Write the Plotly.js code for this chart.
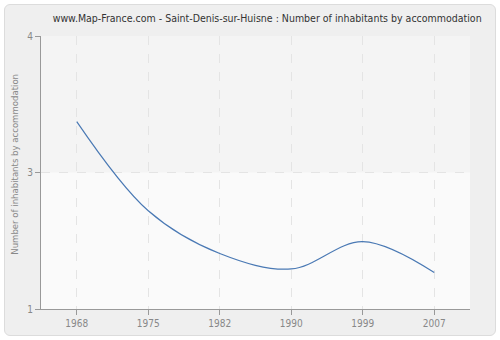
<!DOCTYPE html>
<html><head><meta charset="utf-8">
<script src="https://cdn.plot.ly/plotly-3.0.1.min.js"></script>
<style>
html,body{margin:0;padding:0;background:#ffffff;}
#wrap{position:absolute;left:4px;top:4px;width:490px;height:330px;border:1px solid #dcdcdc;border-radius:6px;background:#efefef;overflow:hidden;}
#chart{width:490px;height:330px;}
</style></head>
<body><div id="wrap"><div id="chart"></div></div>
<script>
var years = ["1968","1975","1982","1990","1999","2007"];
var inhabitants = [3.06, 2.08, 1.61, 1.44, 1.74, 1.40];
var yTickVals = [1, 2.5, 4];
var yTickText = ["1", "3", "4"];
var yTitle = 'Number of inhabitants by accommodation';

var fam = 'DejaVu Sans Condensed, DejaVu Sans, sans-serif';
var trace = {
  x: years, y: inhabitants, type: 'scatter', mode: 'lines',
  line: {color: '#4a79b4', width: 1.2, shape: 'spline', smoothing: 1},
  hoverinfo: 'x+y'
};
var layout = {
  width: 490, height: 330,
  margin: {l: 36, r: 25, t: 31, b: 26},
  paper_bgcolor: 'rgba(0,0,0,0)',
  plot_bgcolor: '#fafafa',
  font: {family: fam, size: 10, color: '#888'},
  title: {text: 'www.Map-France.com - Saint-Denis-sur-Huisne : Number of inhabitants by accommodation',
          font: {family: fam, size: 10.5, color: '#333'}, x: 0.535, xanchor: 'center', y: 0.96, yanchor: 'middle'},
  showlegend: false,
  xaxis: {type: 'category', range: [-0.5, 5.5], showline: true, linecolor: '#999', linewidth: 1,
          ticks: 'outside', ticklen: 5, tickcolor: '#999', showgrid: true, gridcolor: '#e4e4e4',
          griddash: 'dash', gridwidth: 1, zeroline: false, tickfont: {family: fam, size: 10, color: '#888'}},
  yaxis: {range: [1, 4], tickvals: yTickVals, ticktext: yTickText, showline: true, linecolor: '#999',
          linewidth: 1, ticks: 'outside', ticklen: 5, tickcolor: '#999', showgrid: true, gridcolor: '#e4e4e4',
          griddash: 'dash', zeroline: false, tickfont: {family: fam, size: 10, color: '#888'}},
  annotations: [
    {text: yTitle, xref: 'paper', yref: 'paper', x: -0.062, y: 0.53, xanchor: 'center', yanchor: 'middle',
     textangle: -90, showarrow: false, font: {family: fam, size: 9.5, color: '#888'}}
  ],
  shapes: [
    {type: 'rect', xref: 'paper', yref: 'y', x0: 0, x1: 1, y0: 2.5, y1: 4, fillcolor: '#f4f4f4', line: {width: 0}, layer: 'below'}
  ]
};
Plotly.newPlot('chart', [trace], layout, {displayModeBar: false, staticPlot: true});
</script></body></html>
